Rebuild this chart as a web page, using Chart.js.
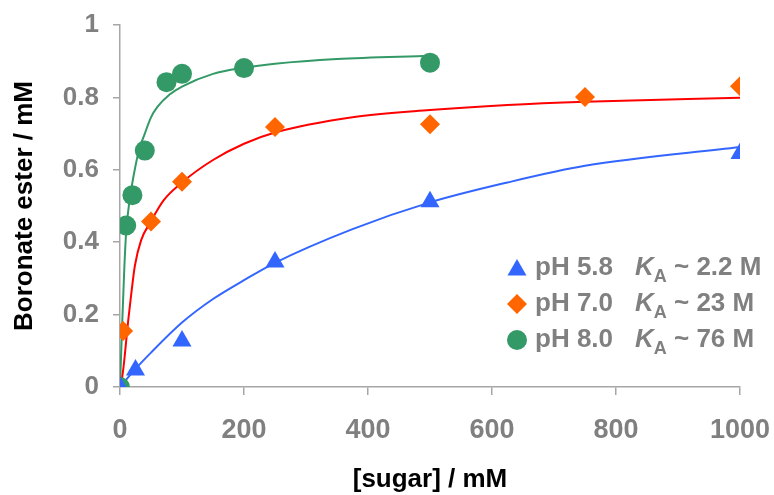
<!DOCTYPE html>
<html>
<head>
<meta charset="utf-8">
<script src="https://cdn.jsdelivr.net/npm/chart.js@4.4.0/dist/chart.umd.min.js"></script>
<style>
  html, body { margin: 0; padding: 0; background: #ffffff; }
  #wrap { width: 774px; height: 495px; }
</style>
</head>
<body>
<div id="wrap"><canvas id="sugar_chart" width="774" height="495"></canvas></div>
<script>
// measured points, [sugar] in mM
var ph58X = [0, 25, 100, 250, 500, 1000];
var ph58Y = [0, 0.047, 0.127, 0.345, 0.512, 0.645];

var ph70X = [5, 50, 100, 250, 500, 750, 1000];
var ph70Y = [0.155, 0.457, 0.567, 0.718, 0.726, 0.801, 0.831];

var ph80X = [0, 10, 20, 40, 75, 100, 200, 500];
var ph80Y = [0, 0.446, 0.53, 0.653, 0.842, 0.865, 0.881, 0.896];

// fitted curves
var fit58X = [0, 25, 50, 100, 150, 200, 250, 375, 500, 625, 750, 1000];
var fit58Y = [0, 0.05, 0.095, 0.178, 0.243, 0.295, 0.343, 0.436, 0.51, 0.565, 0.611, 0.663];

var fit70X = [1.5, 3, 6, 9, 13, 17, 24, 34, 50, 70, 100, 150, 200, 250, 375, 500, 625, 750, 1000];
var fit70Y = [0, 0.02, 0.06, 0.11, 0.18, 0.24, 0.335, 0.405, 0.458, 0.515, 0.565, 0.627, 0.672, 0.703, 0.745, 0.765, 0.779, 0.788, 0.799];

var fit80X = [0, 3, 7, 10, 15, 20, 30, 40, 50, 60, 80, 100, 150, 200, 250, 350, 500];
var fit80Y = [0, 0.15, 0.33, 0.43, 0.51, 0.565, 0.65, 0.70, 0.745, 0.773, 0.808, 0.83, 0.865, 0.882, 0.893, 0.906, 0.915];

var legendPh = ["pH 5.8", "pH 7.0", "pH 8.0"];
var legendKa = [" ~ 2.2 M", " ~ 23 M", " ~ 76 M"];

var xTickLabels = ["0", "200", "400", "600", "800", "1000"];
var yTickLabels = ["0", "0.2", "0.4", "0.6", "0.8", "1"];

var blue = "#3366ff";
var orange = "#ff6600";
var red = "#ff0000";
var green = "#339966";
var grey = "#808080";
var fontName = "'Liberation Sans', Arial, sans-serif";

function toPoints(xs, ys) {
    var pts = [];
    for (var i = 0; i < xs.length; i++) {
        pts.push({ x: xs[i], y: ys[i] });
    }
    return pts;
}

function markerSet(label, xs, ys, style, color, radius) {
    return {
        label: label,
        data: toPoints(xs, ys),
        showLine: false,
        pointStyle: style,
        pointRadius: radius,
        pointBackgroundColor: color,
        pointBorderColor: color,
        pointBorderWidth: 0,
        order: 0
    };
}

function curveSet(xs, ys, color) {
    return {
        data: toPoints(xs, ys),
        showLine: true,
        borderColor: color,
        borderWidth: 2,
        pointRadius: 0,
        cubicInterpolationMode: "monotone",
        fill: false,
        order: 1
    };
}

// legend with italic K and subscript A
var kaLegend = {
    id: "kaLegend",
    afterDraw: function(chart) {
        var ctx = chart.ctx;
        var markers = [chart.data.datasets[0], chart.data.datasets[1], chart.data.datasets[2]];
        var rowY = [268, 304, 340];
        ctx.save();
        for (var i = 0; i < markers.length; i++) {
            var ds = markers[i];
            ctx.fillStyle = ds.pointBackgroundColor;
            ctx.strokeStyle = ds.pointBorderColor;
            ctx.lineWidth = 0;
            Chart.helpers.drawPoint(ctx, { pointStyle: ds.pointStyle, radius: ds.pointRadius, borderWidth: 0 }, 517, rowY[i] + (ds.pointStyle === "triangle" ? 2 : 0));
            ctx.fillStyle = grey;
            ctx.textBaseline = "middle";
            ctx.textAlign = "left";
            ctx.font = "bold 26px " + fontName;
            ctx.fillText(legendPh[i], 535, rowY[i]);
            ctx.font = "italic bold 26px " + fontName;
            ctx.fillText("K", 635, rowY[i]);
            var kx = 635 + ctx.measureText("K").width;
            ctx.font = "bold 18px " + fontName;
            ctx.fillText("A", kx, rowY[i] + 9);
            var ax = kx + ctx.measureText("A").width;
            ctx.font = "bold 26px " + fontName;
            ctx.fillText(legendKa[i], ax, rowY[i]);
        }
        ctx.restore();
    }
};

var ctxSugar = document.getElementById("sugar_chart").getContext("2d");

var sugar_chart = new Chart(ctxSugar, {
    type: "scatter",
    data: {
        datasets: [
            markerSet("pH 5.8", ph58X, ph58Y, "triangle", blue, 11),
            markerSet("pH 7.0", ph70X, ph70Y, "rectRot", orange, 10),
            markerSet("pH 8.0", ph80X, ph80Y, "circle", green, 10),
            curveSet(fit58X, fit58Y, blue),
            curveSet(fit70X, fit70Y, red),
            curveSet(fit80X, fit80Y, green)
        ]
    },
    options: {
        responsive: false,
        animation: false,
        layout: { padding: { top: 25, right: 34, left: 0, bottom: 0 } },
        plugins: {
            legend: { display: false },
            tooltip: { enabled: false }
        },
        scales: {
            x: {
                type: "linear",
                min: 0,
                max: 1000,
                afterFit: function(scale) {
                    scale.height = 108;
                    scale.paddingLeft = 0;
                    scale.paddingRight = 0;
                },
                grid: { display: true, drawOnChartArea: false, tickLength: 8, color: "#a6a6a6", lineWidth: 1.5 },
                border: { display: true, color: "#a6a6a6", width: 1.5 },
                ticks: {
                    stepSize: 200,
                    padding: 19,
                    color: grey,
                    font: { family: fontName, size: 27, weight: "bold" },
                    callback: function(value) { return xTickLabels[Math.round(value / 200)]; }
                },
                title: {
                    display: true,
                    text: "[sugar] / mM",
                    color: "#000000",
                    padding: { top: 0, bottom: 0 },
                    font: { family: fontName, size: 26, weight: "bold" }
                }
            },
            y: {
                type: "linear",
                min: 0,
                max: 1,
                afterFit: function(scale) {
                    scale.width = 120;
                    scale.paddingTop = 0;
                    scale.paddingBottom = 0;
                },
                grid: { display: true, drawOnChartArea: false, tickLength: 7, color: "#a6a6a6", lineWidth: 1.5 },
                border: { display: true, color: "#a6a6a6", width: 1.5 },
                ticks: {
                    stepSize: 0.2,
                    padding: 14,
                    color: grey,
                    font: { family: fontName, size: 26, weight: "bold" },
                    callback: function(value) { return yTickLabels[Math.round(value / 0.2)]; }
                },
                title: {
                    display: true,
                    text: "Boronate ester / mM",
                    color: "#000000",
                    padding: { top: 9, bottom: 0 },
                    font: { family: fontName, size: 26, weight: "bold" }
                }
            }
        }
    },
    plugins: [kaLegend]
});
</script>
</body>
</html>
